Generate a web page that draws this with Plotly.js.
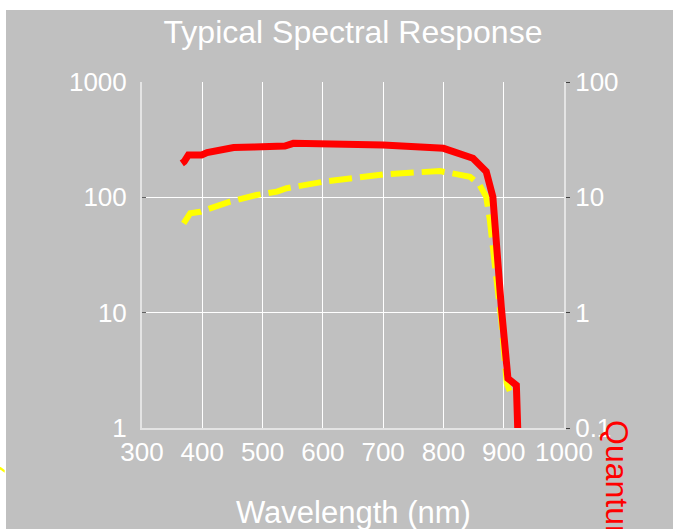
<!DOCTYPE html>
<html>
<head>
<meta charset="utf-8">
<script src="https://cdn.plot.ly/plotly-3.0.1.min.js"></script>
<style>
html,body{margin:0;padding:0;background:#ffffff;}
#chart{width:673px;height:529px;}
</style>
</head>
<body>
<div id="chart"></div>
<script>
// Responsivity (left axis), yellow dashed
const respWavelength = [369, 380, 397, 430, 446, 490, 524, 540, 601, 700, 766, 794, 844, 860, 871, 877, 885, 896, 905, 910, 913];
const respValues     = [59.5, 72.6, 75, 85.8, 91.6, 104.7, 112, 119.8, 136.6, 158, 167, 169, 151, 128, 101, 63.4, 26.7, 8.6, 2.43, 1.99, 1.92];

// Quantum efficiency (right axis), red solid
const qeWavelength = [366, 370, 377, 399, 408, 441, 452, 485, 529, 537, 551, 700, 800, 849, 871, 882, 896, 907, 921, 925];
const qeValues     = [19.7, 20.4, 23.3, 23.3, 24.4, 26.1, 27.0, 27.3, 27.3, 27.8, 29.4, 28.4, 26.6, 21.8, 16.7, 10.1, 1.12, 0.269, 0.235, 0.05];

const xTickVals = [300, 400, 500, 600, 700, 800, 900, 1000];
const yLeftTicks = [1, 10, 100, 1000];
const yLeftText = ['1', '10', '100', '1000'];
const yRightTicks = [0.1, 1, 10, 100];
const yRightText = ['0.1', '1', '10', '100'];

const titleText = 'Typical Spectral Response';
const xTitleText = 'Wavelength (nm)';
const leftTitleText = 'Responsivity (mA/W)';
const rightTitleText = 'Quantum Efficiency (%)';

const FONT = 'Liberation Sans, Arial, sans-serif';
const L = 142, R = 109, T = 82, B = 101;
const W = 673, H = 529;
const pw = W - L - R, ph = H - T - B;
const px2x = p => (p - L) / pw;
const py2y = p => (H - B - p) / ph;

const traces = [
  {
    x: respWavelength, y: respValues, type: 'scatter', mode: 'lines',
    xaxis: 'x', yaxis: 'y',
    line: {color: '#FFFF00', width: 6, dash: '23px,8px'},
    hoverinfo: 'skip'
  },
  {
    x: qeWavelength, y: qeValues, type: 'scatter', mode: 'lines',
    xaxis: 'x', yaxis: 'y2',
    line: {color: '#FF0000', width: 7},
    hoverinfo: 'skip'
  }
];

const layout = {
  width: W, height: H,
  margin: {l: L, r: R, t: T, b: B, pad: 0},
  paper_bgcolor: '#FFFFFF',
  plot_bgcolor: '#C0C0C0',
  showlegend: false,
  font: {family: FONT, color: '#FFFFFF'},
  title: {
    text: titleText,
    font: {family: FONT, size: 32, color: '#FFFFFF'},
    x: 0.5, xref: 'paper', xanchor: 'center',
    y: 1 - 32 / H, yref: 'container', yanchor: 'middle'
  },
  xaxis: {
    range: [300, 1000],
    tickvals: xTickVals,
    tickfont: {family: FONT, size: 26, color: '#FFFFFF'},
    showgrid: true, gridcolor: '#FFFFFF', gridwidth: 1,
    showline: true, linecolor: '#E4E4E4', linewidth: 2,
    ticks: '', zeroline: false, fixedrange: true
  },
  yaxis: {
    type: 'log', range: [0, 3],
    tickvals: yLeftTicks, ticktext: yLeftText,
    tickfont: {family: FONT, size: 26, color: '#FFFFFF'},
    showgrid: true, gridcolor: '#FFFFFF', gridwidth: 1,
    showline: true, linecolor: '#E4E4E4', linewidth: 2,
    ticks: 'inside', ticklen: 4, tickcolor: '#606060',
    ticklabelstandoff: 8,
    zeroline: false, fixedrange: true
  },
  yaxis2: {
    type: 'log', range: [-1, 2],
    overlaying: 'y', side: 'right',
    tickvals: yRightTicks, ticktext: yRightText,
    tickfont: {family: FONT, size: 26, color: '#FFFFFF'},
    showgrid: false,
    showline: true, linecolor: '#E4E4E4', linewidth: 2,
    ticks: 'outside', ticklen: 4, tickcolor: '#404040',
    zeroline: false, fixedrange: true
  },
  shapes: [
    {
      type: 'rect', xref: 'paper', yref: 'paper', layer: 'below',
      x0: px2x(6), x1: px2x(680), y0: py2y(540), y1: py2y(10),
      fillcolor: '#C0C0C0', line: {width: 0}
    }
  ],
  annotations: [
    {
      text: xTitleText, xref: 'paper', yref: 'paper',
      x: 0.5, y: py2y(512), xanchor: 'center', yanchor: 'middle',
      showarrow: false, font: {family: FONT, size: 31, color: '#FFFFFF'}
    },
    {
      text: rightTitleText, xref: 'paper', yref: 'paper',
      x: px2x(617), y: py2y(420 + 168), xanchor: 'center', yanchor: 'middle',
      textangle: 90, showarrow: false,
      font: {family: FONT, size: 32, color: '#FF0000'}
    },
    {
      text: leftTitleText, xref: 'paper', yref: 'paper',
      x: px2x(-13), y: py2y(455 + 157), xanchor: 'center', yanchor: 'middle',
      textangle: -90, showarrow: false,
      font: {family: FONT, size: 32, color: '#FFFF00'}
    }
  ]
};

Plotly.newPlot('chart', traces, layout, {staticPlot: true, displayModeBar: false});
</script>
</body>
</html>
